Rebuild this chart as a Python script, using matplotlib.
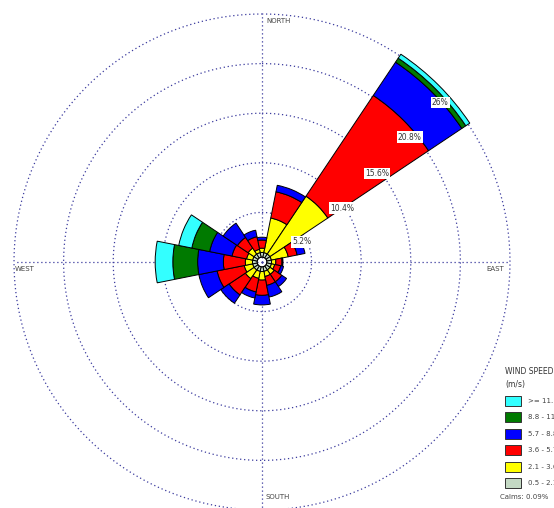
import numpy as np
import matplotlib
matplotlib.use("Agg")
import matplotlib.pyplot as plt
from matplotlib.patches import Rectangle

# directions clockwise from north
directions = ['N', 'NNE', 'NE', 'ENE', 'E', 'ESE', 'SE', 'SSE',
              'S', 'SSW', 'SW', 'WSW', 'W', 'WNW', 'NW', 'NNW']

# frequency (%) per wind speed class, per direction
spd_05_21 = [0.5, 0.5, 0.5, 0.5, 0.5, 0.5, 0.5, 0.5, 0.5, 0.5, 0.5, 0.5, 0.5, 0.5, 0.5, 0.5]
spd_21_36 = [0.45, 3.7, 7.3, 1.8, 0.45, 0.35, 0.55, 0.55, 0.9, 0.75, 1.1, 0.9, 0.75, 0.65, 0.75, 0.35]
spd_36_57 = [0.85, 2.8, 12.7, 0.95, 0.65, 0.65, 0.95, 0.95, 1.6, 1.45, 2.05, 2.9, 2.3, 1.55, 1.35, 1.35]
spd_57_88 = [0.3, 0.7, 4.2, 0.85, 0.1, 0.3, 0.6, 1.25, 1.0, 0.65, 1.05, 1.95, 2.7, 2.4, 1.8, 0.7]
spd_88_111 = [0.0, 0.0, 0.5, 0.0, 0.0, 0.0, 0.0, 0.0, 0.0, 0.0, 0.0, 0.0, 2.6, 1.9, 0.0, 0.0]
spd_111 = [0.0, 0.0, 0.5, 0.0, 0.0, 0.0, 0.0, 0.0, 0.0, 0.0, 0.0, 0.0, 1.85, 1.4, 0.0, 0.0]
calm_radius = 0.5  # calms shown as the empty circle in the middle

classes = [spd_05_21, spd_21_36, spd_36_57, spd_57_88, spd_88_111, spd_111]
class_labels = ['0.5 - 2.1', '2.1 - 3.6', '3.6 - 5.7', '5.7 - 8.8', '8.8 - 11.1', '>= 11.1']
class_colors = ['#c4d9c4', '#ffff00', '#ff0000', '#0000ff', '#007a00', '#33ffff']

ring_values = [5.2, 10.4, 15.6, 20.8, 26.0]
ring_labels = ['5.2%', '10.4%', '15.6%', '20.8%', '26%']
calms = 'Calms: 0.09%'

W, H = 554, 508
fig = plt.figure(figsize=(W / 100, H / 100), dpi=100)

# polar axes centred at (262, 262) px, 26% ring at 248 px
rmax = 26.6
A = 248 * rmax / 26.0
ax = fig.add_axes([(262 - A) / W, (H - 262 - A) / H, 2 * A / W, 2 * A / H], projection='polar')
ax.set_theta_zero_location('N')
ax.set_theta_direction(-1)
ax.set_ylim(0, rmax)
ax.grid(False)
ax.set_xticks([])
ax.set_yticks([])
ax.spines['polar'].set_visible(False)
ax.patch.set_alpha(0)

grid_col = '#3b3b9e'
t = np.linspace(0, 2 * np.pi, 400)
for rv in ring_values:
    ax.plot(t, np.full_like(t, rv), linestyle=(0, (1, 2.2)), color=grid_col, lw=0.9, zorder=1)
for ang in [0, 90, 180, 270]:
    ax.plot([np.radians(ang)] * 2, [0, 26.0], linestyle=(0, (1, 2.2)), color=grid_col, lw=0.9, zorder=1)

theta = np.radians(np.arange(16) * 22.5)
width = np.radians(22.5)
bottom = np.full(16, calm_radius)
for vals, col in zip(classes, class_colors):
    vals = np.array(vals)
    mask = vals > 0
    ax.bar(theta[mask], vals[mask], width=width, bottom=bottom[mask], color=col,
           edgecolor='black', linewidth=0.7, zorder=3)
    bottom = bottom + vals

# ring labels along the NE petal
label_pos = [(63.4, 4.7), (56.0, 10.1), (52.3, 15.2), (49.8, 20.3), (48.2, 25.05)]
for (ang, r), txt in zip(label_pos, ring_labels):
    ax.text(np.radians(ang), r, txt, fontsize=5.5, ha='center', va='center', color='#333333', zorder=5,
            bbox=dict(boxstyle='square,pad=0.15', fc='white', ec='none'))

# compass labels
fig.text(266 / W, 1 - 21 / H, 'NORTH', fontsize=5, color='#444444', ha='left', va='center')
fig.text(266 / W, 1 - 497 / H, 'SOUTH', fontsize=5, color='#444444', ha='left', va='center')
fig.text(15 / W, 1 - 269 / H, 'WEST', fontsize=5, color='#444444', ha='left', va='center')
fig.text(486 / W, 1 - 269 / H, 'EAST', fontsize=5, color='#444444', ha='left', va='center')

# legend (runs off the right edge, as in the original)
fig.text(505 / W, 1 - 372 / H, 'WIND SPEED', fontsize=5.5, color='#333333', ha='left', va='center')
fig.text(505 / W, 1 - 384 / H, '(m/s)', fontsize=5.5, color='#333333', ha='left', va='center')
ys = [401, 417, 434, 450, 467, 483]
for y, col, lab in zip(ys, class_colors[::-1], class_labels[::-1]):
    fig.add_artist(Rectangle((505 / W, 1 - (y + 5) / H), 16 / W, 10 / H, transform=fig.transFigure,
                             facecolor=col, edgecolor='#333333', linewidth=0.7))
    fig.text(528 / W, 1 - y / H, lab, fontsize=5, color='#444444', ha='left', va='center')
fig.text(500 / W, 1 - 497 / H, calms, fontsize=5, color='#444444', ha='left', va='center')

fig.savefig('out.png', dpi=100)
